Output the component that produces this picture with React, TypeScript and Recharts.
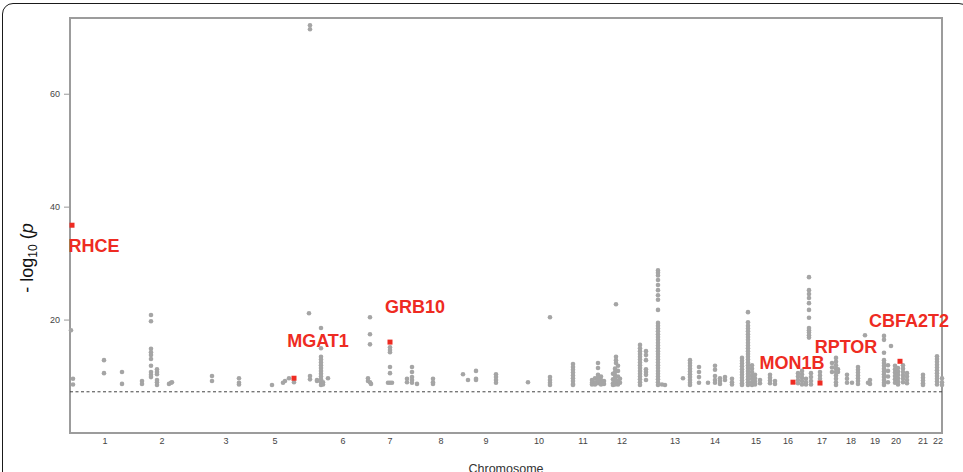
import { ReferenceArea, ReferenceLine, Scatter, ScatterChart, XAxis, YAxis } from "recharts";

// each locus: [cumulative genome position, -log10 p values of SNPs stacked there]
type Locus = [number, number[]];

const chromLabels = ["1", "2", "3", "5", "6", "7", "8", "9", "10", "11", "12", "13", "14", "15", "16", "17", "18", "19", "20", "21", "22"];
const chromTicks = [35, 92, 156, 205, 273, 320, 371, 416, 469, 513, 552, 605, 645, 686, 718, 752, 781, 805, 826, 853, 868];
const yTicks = [20, 40, 60];
const genomeEnd = 872;
const yMax = 73.5;
const significance = 7.3;

const lociChr1to5: Locus[] = [
  [1, [18.2]],
  [3, [9.6, 8.6]],
  [34, [12.9, 10.6]],
  [52, [10.8, 8.7]],
  [72, [9.2, 8.7]],
  [81, [20.9, 19.8, 14.9, 14.3, 13.8, 13.1, 11.9, 10.8, 10.3, 9.9]],
  [87, [11.3, 10.8, 10.4, 9.4, 9.0, 8.5]],
  [99, [8.7]],
  [101, [8.9]],
  [102, [9.0]],
  [142, [10.1, 9.2]],
  [169, [9.7, 8.9, 8.6]],
  [202, [8.5]],
  [213, [8.9]],
  [215, [9.2]],
  [219, [9.7]],
  [224, [9.0]],
  [239, [21.2]],
  [240, [72.2, 71.5, 10.1, 9.5]],
];

const lociChr6to10: Locus[] = [
  [247, [9.4, 9.2]],
  [251, [18.6, 15.0, 13.5, 13.0, 12.5, 12.0, 11.5, 11.0, 10.5, 10.0, 9.5, 9.0, 8.5]],
  [253, [9.0, 8.6]],
  [258, [9.7]],
  [298, [9.7, 9.2]],
  [300, [20.5, 17.5, 15.7, 9.0]],
  [301, [8.7]],
  [318, [8.9]],
  [320, [15.2, 14.7, 14.3, 11.7, 10.6, 8.9]],
  [322, [8.9]],
  [337, [9.6, 9.0]],
  [342, [11.7, 10.8, 9.9, 9.4, 8.9]],
  [347, [8.7]],
  [363, [9.6, 9.0, 8.7]],
  [393, [10.4]],
  [398, [9.4]],
  [406, [11.0, 9.6, 9.4]],
  [426, [10.4, 9.9, 9.4, 8.9]],
  [458, [9.0]],
  [480, [20.5, 9.9, 9.4, 8.9, 8.5]],
];

const lociChr11to14: Locus[] = [
  [503, [12.2, 11.7, 11.2, 10.7, 10.2, 9.7, 9.2, 8.7, 8.5]],
  [522, [9.4, 8.9, 8.6]],
  [525, [9.7, 9.0, 8.6]],
  [528, [12.4, 11.5, 10.3, 9.8, 9.3, 8.8]],
  [531, [10.0, 9.4, 8.9, 8.6]],
  [534, [9.2, 8.7]],
  [543, [10.5, 9.5, 8.8, 8.5]],
  [545, [11.4, 10.8, 10.2, 9.6, 9.0, 8.6]],
  [546, [22.8, 13.5, 12.9, 12.4]],
  [548, [11.9, 11.0, 10.0, 9.2, 8.6]],
  [550, [9.6, 8.9]],
  [570, [15.6, 15.0, 14.5, 14.0, 13.5, 13.0, 12.5, 12.0, 11.5, 11.0, 10.5, 10.0, 9.5, 9.0, 8.5]],
  [576, [14.5, 13.8, 12.9, 11.3, 10.8, 10.3, 9.4]],
  [588, [28.8, 28.4, 27.9, 27.1, 26.2, 25.3, 24.4, 23.6, 21.8, 19.5, 19.0, 18.5, 18.0, 17.5, 17.0, 16.5, 16.0, 15.5, 15.0, 14.5, 14.0, 13.5, 13.0, 12.5, 12.0, 11.5, 11.0, 10.5, 10.0, 9.5, 9.0, 8.5]],
  [592, [8.6]],
  [595, [8.5]],
  [613, [9.7]],
  [620, [12.9, 12.4, 11.9, 11.4, 10.9, 10.4, 9.9, 9.4, 8.9, 8.5]],
  [629, [11.7, 10.8, 9.9, 8.9]],
  [638, [8.9]],
  [645, [11.9, 11.2, 10.1, 9.4, 8.9]],
  [650, [9.7, 9.2, 8.7]],
  [655, [9.9, 9.4]],
  [662, [9.6, 9.0, 8.6]],
];

const lociChr15to18: Locus[] = [
  [672, [13.3, 12.8, 12.3, 11.8, 11.3, 10.8, 10.3, 9.8, 9.3, 8.8, 8.5]],
  [678, [21.4, 19.6, 19.0, 18.5, 18.0, 17.5, 17.0, 16.5, 16.0, 15.5, 15.0, 14.5, 14.0, 13.5, 13.0, 12.5, 12.0, 11.5, 11.0, 10.5, 10.0, 9.5, 9.0, 8.5]],
  [682, [12.0, 11.4, 10.8, 10.2, 9.6, 9.0, 8.5]],
  [685, [10.3, 9.7, 9.1, 8.6]],
  [690, [9.4, 8.8]],
  [700, [10.3, 9.8, 9.3, 8.8]],
  [705, [9.2, 8.7]],
  [728, [10.6, 10.0, 9.4, 8.8]],
  [732, [11.0, 10.4, 9.8, 9.2, 8.6]],
  [736, [9.6, 9.0, 8.6]],
  [739, [27.6, 25.3, 24.6, 23.9, 23.0, 21.8, 20.4, 18.6, 18.2, 17.8, 17.3, 16.9]],
  [741, [10.6, 9.9, 9.2, 8.6]],
  [750, [10.8, 10.2, 9.6]],
  [762, [12.4, 11.6, 10.8]],
  [766, [13.3, 12.6, 12.0, 11.4, 10.8, 10.2, 9.6, 9.0, 8.5]],
  [768, [11.3, 10.8]],
  [777, [10.3, 9.6, 8.9]],
  [782, [8.9]],
  [788, [11.7, 11.2, 10.7, 10.2, 9.7, 9.2, 8.7]],
  [795, [17.3]],
  [798, [8.9]],
  [800, [9.4, 8.7]],
];

const lociChr19to22: Locus[] = [
  [814, [17.2, 16.5, 14.2, 12.9, 12.4, 11.9, 11.4, 10.9, 10.4, 9.9, 9.4, 8.9, 8.5]],
  [818, [12.0, 11.0, 10.0, 9.0]],
  [821, [15.4]],
  [825, [11.9, 11.3, 10.7, 10.1, 9.5, 8.9]],
  [828, [11.5, 10.9, 10.3, 9.7, 9.1, 8.6]],
  [833, [12.0, 11.4, 10.8, 10.2, 9.6, 9.0]],
  [837, [10.6, 10.0, 9.4, 8.8]],
  [853, [10.3, 9.8, 9.3, 8.8, 8.5]],
  [867, [13.6, 13.1, 12.6, 12.1, 11.6, 11.1, 10.6, 10.1, 9.6, 9.1, 8.6]],
  [872, [9.7, 9.0, 8.5]],
];

const geneNames = ["RHCE", "MGAT1", "GRB10", "MON1B", "RPTOR", "CBFA2T2"];
const genePos = [2, 224, 320, 723, 750, 830];
const geneP = [36.8, 9.7, 16.1, 9.0, 8.85, 12.7];

// where each gene name sits relative to its marker, in pixels
const labelOffset: Record<string, [number, number]> = {
  RHCE: [22, 21],
  MGAT1: [24, -37],
  GRB10: [25, -35],
  MON1B: [-1, -19],
  RPTOR: [26, -36],
  CBFA2T2: [9, -40],
};

const FONT = "'Liberation Sans', Arial, sans-serif";
const GRAY = "#a5a5a5";
const RED = "#ee2b22";

const snpData = [...lociChr1to5, ...lociChr6to10, ...lociChr11to14, ...lociChr15to18, ...lociChr19to22].flatMap(
  ([pos, values]) => values.map((p) => ({ x: pos, y: p })),
);
const geneData = geneNames.map((name, i) => ({ name, x: genePos[i], y: geneP[i] }));

function SnpDot(props: any) {
  return <circle cx={props.cx} cy={props.cy} r={2.3} fill={GRAY} />;
}

function GeneMark(props: any) {
  const { cx, cy, payload } = props;
  const [dx, dy] = labelOffset[payload.name] ?? [0, -20];
  return (
    <g>
      <rect x={cx - 2.5} y={cy - 2.5} width={5} height={5} fill={RED} />
      <text
        x={cx + dx}
        y={cy + dy}
        textAnchor="middle"
        dominantBaseline="central"
        fontFamily={FONT}
        fontWeight="bold"
        fontSize={18}
        fill={RED}
      >
        {payload.name}
      </text>
    </g>
  );
}

export default function App() {
  return (
    <div style={{ position: "relative", width: 963, height: 472, overflow: "hidden", background: "#fff" }}>
      <style>{"body{margin:0}"}</style>
      <div
        style={{
          position: "absolute",
          left: 2,
          top: 3,
          width: 968,
          height: 500,
          border: "1.5px solid #1a1a1a",
          borderRadius: 11,
          boxSizing: "border-box",
        }}
      />
      <div style={{ position: "absolute", left: 0, top: 0 }}>
        <ScatterChart width={963} height={472} margin={{ top: 18, right: 21, bottom: 0, left: 0 }}>
          <XAxis
            type="number"
            dataKey="x"
            domain={[0, genomeEnd]}
            ticks={chromTicks}
            interval={0}
            tickFormatter={(_v: number, i: number) => chromLabels[i]}
            tick={{ fill: "#444", fontSize: 9, fontFamily: FONT }}
            tickLine={false}
            tickSize={0}
            tickMargin={5}
            axisLine={false}
            height={39}
            label={{
              content: ({ viewBox }: any) => (
                <text
                  x={viewBox.x + viewBox.width / 2}
                  y={473}
                  textAnchor="middle"
                  fontFamily={FONT}
                  fontSize={12.5}
                  fill="#333"
                >
                  Chromosome
                </text>
              ),
            }}
          />
          <YAxis
            type="number"
            dataKey="y"
            domain={[0, yMax]}
            ticks={yTicks}
            interval={0}
            tick={{ fill: "#444", fontSize: 9, fontFamily: FONT }}
            tickLine={{ stroke: "#999" }}
            tickSize={6}
            tickMargin={4}
            axisLine={false}
            width={70}
            label={{
              content: () => (
                <text
                  x={33}
                  y={258}
                  transform="rotate(-90 33 258)"
                  textAnchor="middle"
                  fontFamily={FONT}
                  fontSize={18}
                  fill="#111"
                >
                  - log
                  <tspan fontSize={12} dy={4}>
                    10
                  </tspan>
                  <tspan dy={-4}> (</tspan>
                  <tspan fontStyle="italic">p</tspan>
                </text>
              ),
            }}
          />
          <ReferenceArea
            x1={0}
            x2={genomeEnd}
            y1={0}
            y2={yMax}
            fill="none"
            stroke="#9c9c9c"
            strokeWidth={2}
            ifOverflow="visible"
          />
          <ReferenceLine y={significance} stroke="#444" strokeDasharray="3 2.5" strokeWidth={1} />
          <Scatter data={snpData} shape={SnpDot} isAnimationActive={false} />
          <Scatter data={geneData} shape={GeneMark} isAnimationActive={false} />
        </ScatterChart>
      </div>
    </div>
  );
}
